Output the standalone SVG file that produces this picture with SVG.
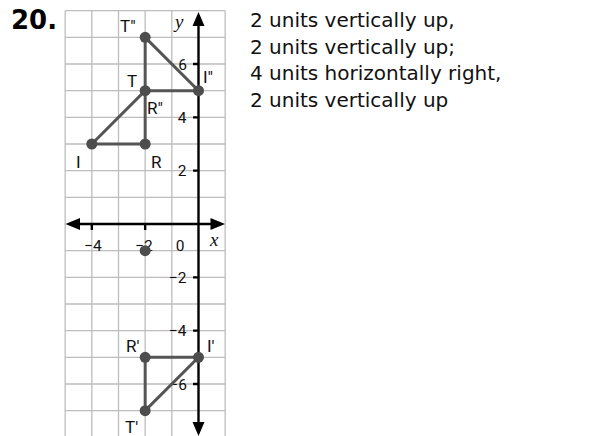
<svg xmlns="http://www.w3.org/2000/svg" width="589" height="436" viewBox="0 0 589 436">
<style>
.grid{stroke:#bdbdbd;stroke-width:1.3;fill:none}
.axis{stroke:#000;stroke-width:2.4;fill:none}
.seg{stroke:#555;stroke-width:3;fill:none}
.dot{fill:#4d4d4d}
.lbl{font-family:Roboto,"Open Sans","DejaVu Sans",sans-serif;font-size:17px;fill:#111}
.num{font-family:Roboto,"Open Sans","DejaVu Sans",sans-serif;font-size:15.5px;fill:#111}
.var{font-family:"Liberation Serif","DejaVu Serif",serif;font-style:italic;font-size:19px;fill:#111}
.txt{font-family:"DejaVu Sans",Verdana,sans-serif;font-size:20px;fill:#111}
.big{font-family:"DejaVu Sans",Verdana,sans-serif;font-weight:bold;font-size:26px;fill:#000}
</style>
<rect width="589" height="436" fill="#fff"/>
<text class="big" x="11" y="29">20.</text>
<g id="grid">
<path class="grid" d="M65.17 10.67V436M91.83 10.67V436M118.5 10.67V436M145.17 10.67V436M171.83 10.67V436M225.17 10.67V436"/>
<path class="grid" d="M65.17 10.67H225.17M65.17 37.33H225.17M65.17 64H225.17M65.17 90.67H225.17M65.17 117.33H225.17M65.17 144H225.17M65.17 170.67H225.17M65.17 197.33H225.17M65.17 250.67H225.17M65.17 277.33H225.17M65.17 304H225.17M65.17 330.67H225.17M65.17 357.33H225.17M65.17 384H225.17M65.17 410.67H225.17"/>
</g>
<g id="axes">
<path class="axis" d="M198.5 24V424M78 224H212"/>
<path d="M198.5 12L192.5 26H204.5Z M198.5 436L192.5 422H204.5Z M65.5 224L80 218V230Z M225 224L210.5 218V230Z" fill="#000"/>
<path class="axis" stroke-width="2" d="M193 64H198.5M193 117.33H198.5M193 170.67H198.5M193 277.33H198.5M193 330.67H198.5M193 384H198.5M91.83 224V230M145.17 224V230"/>
<text class="var" x="175" y="28">y</text>
<text class="var" x="210" y="246">x</text>
<g class="num" text-anchor="end">
<text x="187" y="70">6</text>
<text x="186.5" y="123">4</text>
<text x="186.5" y="176">2</text>
<text x="186.5" y="283">−2</text>
<text x="186.5" y="336">−4</text>
<text x="187" y="390">−6</text>
</g>
<g class="num" text-anchor="middle">
<text x="93" y="251">−4</text>
<text x="144" y="251">−2</text>
<text x="180" y="251">0</text>
</g>
</g>
<g id="connectors">
<path class="seg" d="M91.83 144L145.17 90.67V144Z"/>
<path class="seg" d="M145.17 37.33L198.5 90.67H145.17Z"/>
<path class="seg" d="M145.17 357.33H198.5L145.17 410.67Z"/>
</g>
<g id="I"><circle class="dot" cx="91.83" cy="144" r="5.5"/><text class="lbl" x="76" y="168">I</text></g>
<g id="R"><circle class="dot" cx="145.17" cy="144" r="5.5"/><text class="lbl" x="151" y="168">R</text></g>
<g id="T"><circle class="dot" cx="145.17" cy="90.67" r="5.5"/><text class="lbl" x="127" y="87">T</text><text class="lbl" x="147" y="114">R″</text></g>
<g id="T2"><circle class="dot" cx="145.17" cy="37.33" r="5.5"/><text class="lbl" x="120" y="32">T″</text></g>
<g id="I2"><circle class="dot" cx="198.5" cy="90.67" r="5.5"/><text class="lbl" x="203" y="83">I″</text></g>
<g id="P"><circle class="dot" cx="145.17" cy="250.67" r="5.5"/></g>
<g id="R1"><circle class="dot" cx="145.17" cy="357.33" r="5.5"/><text class="lbl" x="126" y="352">R′</text></g>
<g id="I1"><circle class="dot" cx="198.5" cy="357.33" r="5.5"/><text class="lbl" x="207" y="352">I′</text></g>
<g id="T1"><circle class="dot" cx="145.17" cy="410.67" r="5.5"/><text class="lbl" x="125" y="433">T′</text></g>
<g id="text">
<text class="txt" x="250" y="27">2 units vertically up,</text>
<text class="txt" x="250" y="53.5">2 units vertically up;</text>
<text class="txt" x="250" y="80">4 units horizontally right,</text>
<text class="txt" x="250" y="106.5">2 units vertically up</text>
</g>
</svg>
